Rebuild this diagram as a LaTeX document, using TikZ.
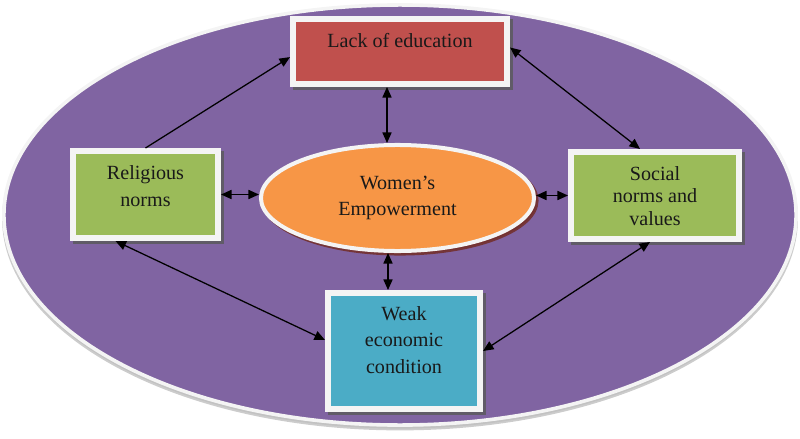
\documentclass[tikz,border=0pt]{standalone}
\usepackage{fontspec}
\setmainfont{Liberation Serif}
\usetikzlibrary{arrows.meta,shapes.geometric,shadows}
\definecolor{ovalpurple}{HTML}{8064A2}
\definecolor{boxred}{HTML}{C0504D}
\definecolor{boxgreen}{HTML}{9BBB59}
\definecolor{boxblue}{HTML}{4BACC6}
\definecolor{huborange}{HTML}{F79646}
\definecolor{rim}{HTML}{F4F4F4}
\begin{document}
\begin{tikzpicture}[
            x=0.025cm, y=-0.025cm,
            >={Triangle[length=7.5pt,width=6.5pt]},
            link/.style={<->, line width=0.9pt, black},
            box/.style={rectangle, draw=rim, line width=0.15cm, inner sep=0pt,
                align=center, text=black!90,
                font=\fontsize{14.3}{18.5}\selectfont,
                drop shadow={shadow xshift=2.2pt, shadow yshift=-2.2pt,
                    fill=black!65, draw=black!65, opacity=0.8}},
            hub/.style={ellipse, draw=rim, line width=0.1cm, inner sep=0pt,
                align=center, text=black!90, fill=huborange,
                font=\fontsize{14.3}{19}\selectfont,
                minimum width=6.825cm, minimum height=2.65cm,
                drop shadow={shadow xshift=1.8pt, shadow yshift=-1.8pt,
                    fill=boxred!60!black, draw=boxred!60!black, opacity=0.9}},
            oval/.style={ellipse, draw=rim, line width=0.09cm, fill=ovalpurple,
                inner sep=0pt, minimum width=19.8cm, minimum height=10.5cm,
                drop shadow={shadow xshift=0pt, shadow yshift=-2.5pt,
                    fill=black!25, draw=black!25, opacity=0.8}}
        ]
        \useasboundingbox (0,0) rectangle (800,439);

        \node[oval] (bg) at (400,215) {};

        \node[box, fill=boxred, minimum width=5.35cm, minimum height=1.625cm,
            text height=0.725cm, text depth=0.9cm] (lack) at (400,51.5) {Lack of education};
        \node[box, fill=boxgreen, minimum width=3.625cm, minimum height=2.175cm,
            text height=1.375cm, text depth=0.8cm] (rel) at (145.5,194.5) {Religious\\norms};
        \node[box, fill=boxgreen, minimum width=4.2cm, minimum height=2.175cm,
            text height=1.825cm, text depth=0.35cm] (soc) at (655,195.5) {Social\\[-2.5pt]norms and\\[-2.5pt]values};
        \node[box, fill=boxblue, minimum width=3.8cm, minimum height=2.9cm,
            text height=2cm, text depth=0.9cm] (weak) at (404,351) {Weak\\economic\\condition};
        \node[hub] (wom) at (397.5,198) {Women’s\\Empowerment};

        \coordinate (lt) at ([xshift=-0.325cm]lack.south);
        \coordinate (wt) at ([xshift=-0.4cm]weak.north);

        \draw[link] (lt) -- (lt |- wom.north);
        \draw[link] (wt) -- (wt |- wom.south);
        \draw[link] (rel.east) -- (rel.east -| wom.west);
        \draw[link] (soc.west -| wom.east) -- (soc.west);
        \draw[link, <-] ([yshift=-0.14cm]lack.west) -- (rel.north);
        \draw[link] ([yshift=0.1cm]lack.east) -- ([xshift=-0.375cm]soc.north);
        \draw[link] ([xshift=-0.75cm]rel.south) -- ([yshift=0.275cm]weak.west);
        \draw[link] ([xshift=-0.125cm]soc.south) -- (weak.east);
\end{tikzpicture}
\end{document}
